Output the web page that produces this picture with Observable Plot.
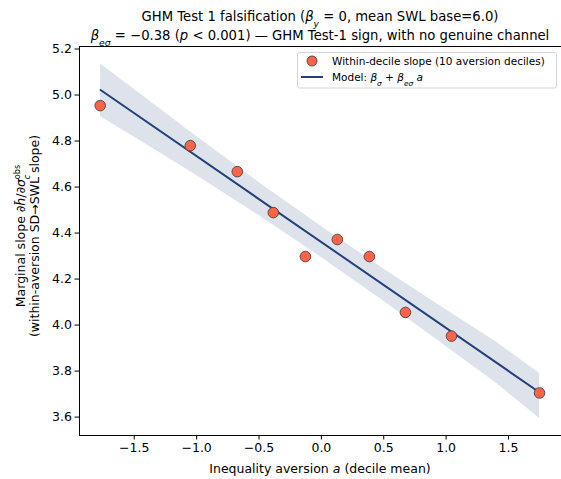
<!DOCTYPE html>
<html>
<head>
<meta charset="utf-8">
<script src="https://cdn.jsdelivr.net/npm/d3@7"></script>
<script src="https://cdn.jsdelivr.net/npm/@observablehq/plot@0.6"></script>
<style>
  html, body { margin: 0; padding: 0; background: #fff; overflow: hidden; }
  svg { font-family: "DejaVu Sans", sans-serif; display: block; }
</style>
</head>
<body>
<div id="chart"></div>
<script>
// Decile means of inequality aversion a and within-decile slope
const aversion = [-1.773, -1.051, -0.674, -0.385, -0.128, 0.128, 0.385, 0.674, 1.043, 1.749];
const slope    = [4.954, 4.780, 4.667, 4.489, 4.298, 4.372, 4.298, 4.055, 3.952, 3.705];

// Fitted model line
const modelX = [-1.77, 1.75];
const modelY = [5.022, 3.707];

// Confidence band
const bandX  = [-1.77, -1.4, -1.0, -0.5, 0.0, 0.5, 1.0, 1.4, 1.75];
const bandLo = [4.906, 4.784, 4.650, 4.476, 4.294, 4.104, 3.907, 3.748, 3.594];
const bandHi = [5.135, 4.984, 4.820, 4.620, 4.428, 4.244, 4.067, 3.928, 3.790];

const xTicks = [-1.5, -1.0, -0.5, 0.0, 0.5, 1.0, 1.5];
const yTicks = [3.6, 3.8, 4.0, 4.2, 4.4, 4.6, 4.8, 5.0, 5.2];

const points = aversion.map((a, i) => ({a, s: slope[i]}));
const model = modelX.map((a, i) => ({a, y: modelY[i]}));
const band = bandX.map((a, i) => ({a, lo: bandLo[i], hi: bandHi[i]}));

const navy = "#22407a";
const xDom = [-1.939, 1.925];
const yDom = [3.52, 5.211];

const plot = Plot.plot({
  width: 561,
  height: 479,
  marginLeft: 79,
  marginRight: 0,
  marginTop: 46,
  marginBottom: 44,
  style: {fontFamily: "DejaVu Sans, sans-serif", fontSize: "12px", color: "#000", background: "#fff"},
  x: {domain: xDom, label: null},
  y: {domain: yDom, label: null},
  marks: [
    Plot.areaY(band, {x: "a", y1: "lo", y2: "hi", fill: navy, fillOpacity: 0.15}),
    Plot.line(model, {x: "a", y: "y", stroke: navy, strokeWidth: 2}),
    Plot.dot(points, {x: "a", y: "s", r: 5.3, fill: "#ff6347", stroke: "#444", strokeWidth: 0.9}),
    Plot.ruleX([xDom[0]], {stroke: "#000", strokeWidth: 1}),
    Plot.ruleY([yDom[0]], {stroke: "#000", strokeWidth: 1}),
    Plot.ruleY([yDom[1]], {stroke: "#000", strokeWidth: 1}),
    Plot.axisX({ticks: xTicks, tickFormat: d3.format(".1f"), tickSize: 4.5, tickPadding: 3, fontSize: 12.5, label: null}),
    Plot.axisY({ticks: yTicks, tickFormat: d3.format(".1f"), tickSize: 4.5, tickPadding: 3, fontSize: 12.5, label: null})
  ]
});

document.getElementById("chart").appendChild(plot);
const svg = d3.select(plot);

// helpers for rich text
function rich(sel, parts) {
  parts.forEach(p => {
    const t = sel.append("tspan").text(p.t);
    if (p.i) t.attr("font-style", "italic");
    if (p.sub) t.attr("baseline-shift", "sub").attr("font-size", p.fs || "70%");
    if (p.sup) t.attr("baseline-shift", "super").attr("font-size", p.fs || "70%");
    if (p.dx) t.attr("dx", p.dx);
  });
}

// Title
const cx = 320;
const t1 = svg.append("text").attr("x", cx).attr("y", 21).attr("text-anchor", "middle").attr("font-size", 13.2).attr("fill", "#000");
rich(t1, [
  {t: "GHM Test 1 falsification ("},
  {t: "β", i: true}, {t: "y", i: true, sub: true},
  {t: " = 0, mean SWL base=6.0)"}
]);
const t2 = svg.append("text").attr("x", cx).attr("y", 40).attr("text-anchor", "middle").attr("font-size", 13.2).attr("fill", "#000");
rich(t2, [
  {t: "β", i: true}, {t: "eσ", i: true, sub: true},
  {t: " = −0.38 ("},
  {t: "p", i: true},
  {t: " < 0.001) — GHM Test-1 sign, with no genuine channel"}
]);

// X label
const xl = svg.append("text").attr("x", cx).attr("y", 473).attr("text-anchor", "middle").attr("font-size", 12.5).attr("fill", "#000");
rich(xl, [{t: "Inequality aversion "}, {t: "a", i: true}, {t: " (decile mean)"}]);

// Y label (two lines, rotated)
const cy = 236;
const yl1 = svg.append("text").attr("transform", `translate(25,${cy}) rotate(-90)`).attr("text-anchor", "middle").attr("font-size", 12.5).attr("fill", "#000");
rich(yl1, [
  {t: "Marginal slope ∂"}, {t: "h̄", i: true}, {t: "/∂"}, {t: "σ", i: true},
  {t: "c", i: true, sub: true, fs: "65%"},
  {t: "obs", sup: true, fs: "65%", dx: "-4.5"}
]);
const yl2 = svg.append("text").attr("transform", `translate(39,${cy}) rotate(-90)`).attr("text-anchor", "middle").attr("font-size", 12.5).attr("fill", "#000");
yl2.text("(within-aversion SD→SWL slope)");

// Legend
const lg = svg.append("g").attr("text-anchor", "start");
lg.append("rect").attr("x", 297.5).attr("y", 52.5).attr("width", 259).attr("height", 35.5)
  .attr("rx", 2).attr("fill", "#fff").attr("fill-opacity", 0.85).attr("stroke", "#ccc").attr("stroke-width", 0.8);
lg.append("circle").attr("cx", 312).attr("cy", 61).attr("r", 5).attr("fill", "#ff6347").attr("stroke", "#444").attr("stroke-width", 0.9);
lg.append("line").attr("x1", 301).attr("x2", 323).attr("y1", 77).attr("y2", 77).attr("stroke", navy).attr("stroke-width", 2);
lg.append("text").attr("x", 332).attr("y", 64.8).attr("text-anchor", "start").attr("font-size", 10.5).attr("fill", "#000")
  .text("Within-decile slope (10 aversion deciles)");
const lt = lg.append("text").attr("x", 332).attr("y", 80.8).attr("text-anchor", "start").attr("font-size", 10.5).attr("fill", "#000");
rich(lt, [
  {t: "Model: "}, {t: "β", i: true}, {t: "σ", i: true, sub: true},
  {t: " + "}, {t: "β", i: true}, {t: "eσ", i: true, sub: true},
  {t: " "}, {t: "a", i: true}
]);
</script>
</body>
</html>
